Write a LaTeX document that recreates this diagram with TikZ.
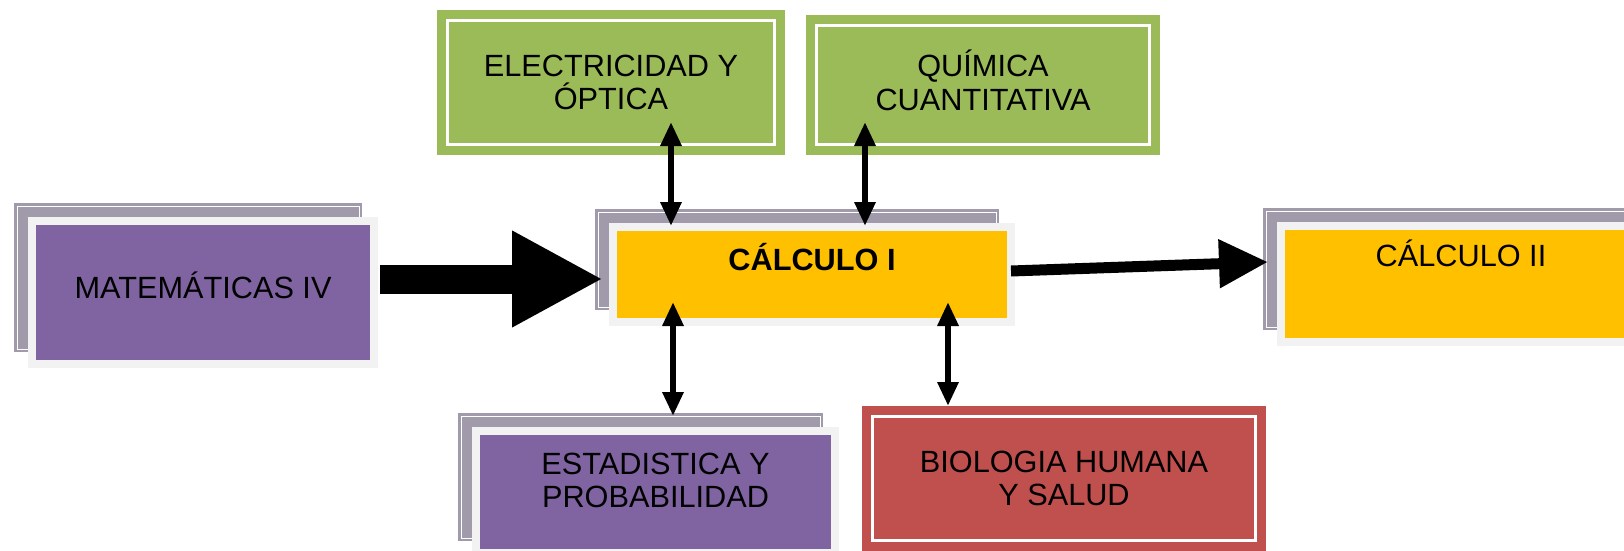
\documentclass[tikz,border=0pt]{standalone}
\usepackage{fontspec}
\setmainfont{Liberation Sans}
\usetikzlibrary{arrows.meta,backgrounds,calc}
\definecolor{backgray}{RGB}{160,154,171}
\definecolor{framegray}{RGB}{242,242,242}
\definecolor{matpurple}{RGB}{128,100,162}
\definecolor{calcyellow}{RGB}{255,192,0}
\definecolor{physgreen}{RGB}{155,187,89}
\definecolor{biored}{RGB}{192,80,77}
\newcommand{\boxfont}{\fontsize{30.7}{33}\selectfont}
\tikzset{
    box/.style 2 args = {rectangle, minimum width=#1, minimum height=#2,
        inner sep=0pt, align=center, font=\boxfont},
    block/.style = {draw=framegray, line width=8pt, fill=#1},
    backbox/.style = {draw=backgray, fill=backgray, line width=2.5pt,
        double=white, double distance=1pt},
    ringbox/.style = {draw=#1, fill=#1, line width=9pt,
        double=white, double distance=3pt},
    fatarrow/.style = {-{Triangle[width=90pt,length=91pt]}, line width=29pt},
    flowarrow/.style = {-{Triangle[width=46pt,length=49pt]}, line width=11pt},
    linkarrow/.style = {{Triangle[width=20pt,length=24pt]}-{Triangle[width=20pt,length=24pt]}, line width=6pt}
}

\begin{document}
\begin{tikzpicture}[x=1pt, y=-1pt]
        \useasboundingbox (0,0) rectangle (1624,551);
        \node [box={342pt}{143pt}, block=matpurple, text height=22pt, text depth=11pt] (mat) at (203,292.5) {MATEMÁTICAS IV};
        \node [box={398pt}{95pt}, block=calcyellow, font=\boxfont\bfseries, text height=22pt, text depth=31pt] (calc1) at (812,274.5) {CÁLCULO I};
        \node [box={360pt}{116pt}, block=calcyellow, text height=22pt, text depth=58pt] (calc2) at (1461,284) {CÁLCULO II};
        \node [box={327pt}{124pt}, ringbox=physgreen] (elec) at (611,82.5) {ELECTRICIDAD Y\\ÓPTICA};
        \node [box={333pt}{119pt}, ringbox=physgreen, text height=50pt, text depth=0pt] (quim) at (983,85) {QUÍMICA\\CUANTITATIVA};
        \node [box={359pt}{122pt}, block=matpurple, text height=55pt, text depth=25pt] (estad) at (655.5,492) {ESTADISTICA Y\\PROBABILIDAD};
        \node [box={383pt}{124pt}, ringbox=biored] (bio) at (1064,478.5) {BIOLOGIA HUMANA\\Y SALUD};
        \begin{scope}[on background layer]
            \node [box={342pt}{143pt}, backbox] (matB) at ([shift={(-15,-15)}]mat.center) {};
            \node [box={398pt}{95pt}, backbox] (calc1B) at ([shift={(-15,-15)}]calc1.center) {};
            \node [box={360pt}{116pt}, backbox] (calc2B) at ([shift={(-15,-15)}]calc2.center) {};
            \node [box={359pt}{122pt}, backbox] (estadB) at ([shift={(-15,-15)}]estad.center) {};
        \end{scope}
        \draw [fatarrow] ([xshift=2pt,yshift=13.5pt]mat.east) -- ([xshift=-6pt,yshift=-4.5pt]calc1.west);
        \draw [flowarrow] ([xshift=-4pt,yshift=3.5pt]calc1.east) -- ([xshift=-9pt,yshift=22pt]calc2.west);
        \draw [linkarrow] ([xshift=60pt,yshift=27pt]elec.south) -- ([xshift=-141pt,yshift=-3pt]calc1.north);
        \draw [linkarrow] ([xshift=-118pt,yshift=27pt]quim.south) -- ([xshift=53pt,yshift=-3pt]calc1.north);
        \draw [linkarrow] ([xshift=-139pt,yshift=24pt]calc1.south) -- ([xshift=17.5pt,yshift=11pt]estad.north);
        \draw [linkarrow] ([xshift=136pt,yshift=24pt]calc1.south) -- ([xshift=-116pt,yshift=6pt]bio.north);
\end{tikzpicture}
\end{document}
